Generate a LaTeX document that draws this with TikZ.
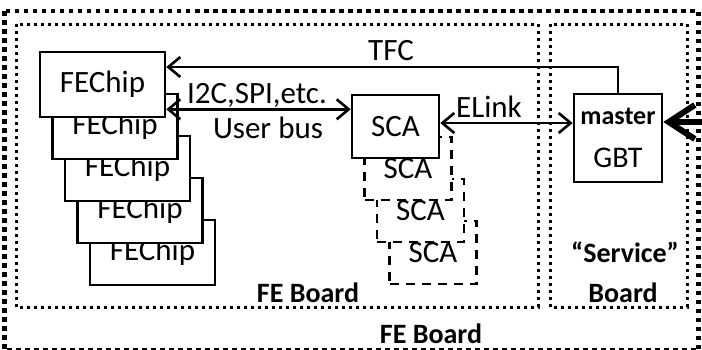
\documentclass[tikz,border=0pt]{standalone}
\usepackage{fontspec}
\setmainfont{Carlito}
\usetikzlibrary{arrows.meta, positioning, calc}

\newcommand{\lbltxt}{\fontsize{31}{37}\selectfont}
\newcommand{\boardtxt}{\fontsize{28}{34}\selectfont\bfseries}

\begin{document}
\begin{tikzpicture}[x=1pt, y=-1pt,
    chip/.style={draw, fill=white, line width=2.6pt, minimum width=125pt,
                 minimum height=65pt, inner sep=0pt, font=\lbltxt},
    sca/.style={chip, minimum width=87pt, minimum height=63pt},
    ghost/.style={sca, dash pattern=on 9pt off 7pt},
    board/.style={line width=3pt, dash pattern=on 3pt off 4pt},
    outerbd/.style={line width=4.5pt, dash pattern=on 4.5pt off 4.5pt},
    lbl/.style={font=\lbltxt, anchor=base, inner sep=0pt},
    bdlbl/.style={font=\boardtxt, anchor=base, inner sep=0pt},
    arr/.style={-{Straight Barb[length=12pt, width=20pt]}, line width=2.6pt},
    dbl/.style={{Straight Barb[length=12pt, width=20pt]}-{Straight Barb[length=12pt, width=20pt]},
                line width=2.6pt},
    fat/.style={-{Straight Barb[length=26pt, width=34pt]}, line width=6pt}
  ]
    \useasboundingbox (0,0) rectangle (702,349);

    % boards
    \draw[outerbd] (4.5,11) rectangle (698.5,350.5);
    \draw[board] (16,24) rectangle (538,307);
    \draw[board] (550,24) rectangle (687,307);
    \node[bdlbl] (feb)  at (308,302) {FE Board};
    \node[bdlbl] (feb2) at (431,343) {FE Board};
    \node[bdlbl] (srv)  at (625,262) {“Service”};
    \node[bdlbl] (srvb) at (623,302) {Board};

    % front-end chips, back to front
    \foreach \i in {4,3,2,1,0}
      \node[chip] (chip\i) at (102.5+12.5*\i, 84.5+42*\i) {FEChip};

    % SCAs
    \foreach \i in {3,2,1}
      \node[ghost] (sca\i) at (395.5+12.5*\i, 126.5+42*\i) {SCA};
    \node[sca] (sca0) at (395.5,126.5) {SCA};

    \node[chip, minimum width=88pt, minimum height=88pt, align=center,
          font=\fontsize{30}{43}\selectfont] (gbt) at (618,138)
      {{\fontsize{26}{30}\selectfont\bfseries master}\\GBT};

    % links
    \coordinate (tfcbend) at (618,67);
    \draw[arr] (gbt.north) -- (tfcbend) -- (tfcbend -| chip0.east);
    \node[lbl] (tfc) at (391,60) {TFC};

    \coordinate (busl) at ([yshift=9pt]chip0.south east);
    \draw[dbl] (busl) -- (busl -| sca0.west);
    \node[lbl] (bus1) at (257,103) {I2C,SPI,etc.};
    \node[lbl] (bus2) at (268,138) {User bus};

    \coordinate (elinkl) at ([yshift=3.5pt]sca0.east);
    \draw[dbl] (elinkl) -- (elinkl -| gbt.west);
    \node[lbl] (elink) at (489,117) {ELink};

    \coordinate (optin) at (703,122);
    \draw[fat] (optin) -- (optin -| gbt.east);
  \end{tikzpicture}
\end{document}
